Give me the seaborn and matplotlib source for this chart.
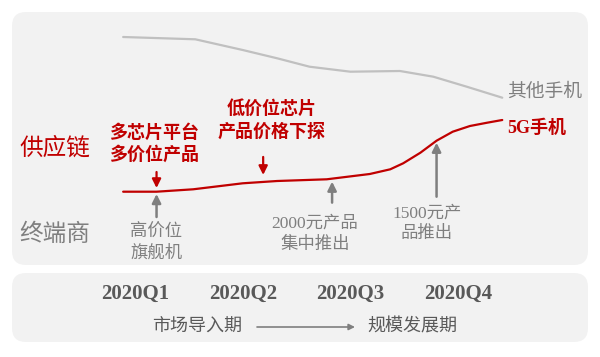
import matplotlib.pyplot as plt
import seaborn as sns
import pandas as pd
import numpy as np
from matplotlib.patches import FancyBboxPatch

# time in quarters of 2020 (1 = Q1 ... 4 = Q4), value = relative share index
other_time = [0.89, 1.56, 2.0, 2.32, 2.62, 3.0, 3.46, 3.77, 4.08, 4.41]
other_phones = [17.3, 17.07, 16.0, 15.17, 14.33, 13.83, 13.9, 13.33, 12.33, 11.23]
g5_time = [0.89, 1.2, 1.54, 2.0, 2.32, 2.78, 3.18, 3.37, 3.49, 3.65, 3.8, 3.95, 4.11, 4.27, 4.41]
phones_5g = [1.83, 1.83, 2.07, 2.67, 2.9, 3.07, 3.6, 4.07, 4.67, 5.73, 6.93, 7.83, 8.4, 8.73, 9.0]

quarters = ['2020Q1', '2020Q2', '2020Q3', '2020Q4']
series_names = ['其他手机', '5G手机']

# supply-chain events (above the 5G line), terminal events (below)
supply_events_t = [1.2, 2.19]
supply_events = ['多芯片平台\n多价位产品', '低价位芯片\n产品价格下探']
terminal_events_t = [1.2, 2.83, 3.8]
terminal_events = ['高价位\n旗舰机', '2000元产品\n集中推出', '1500元产\n品推出']

RED = '#c00000'
GRAY_TXT = '#7f7f7f'
DARK_TXT = '#595959'
GRAY_LINE = '#c0c0c0'
PANEL = '#f2f2f2'

sns.set_style('white')
plt.rcParams['font.family'] = ['Liberation Serif', 'Noto Sans CJK SC']

fig = plt.figure(figsize=(6, 3.57), dpi=100)

# background axes in pixel units for the panels and free text
bg = fig.add_axes([0, 0, 1, 1])
bg.set_xlim(0, 600)
bg.set_ylim(357, 0)
bg.axis('off')
bg.add_patch(FancyBboxPatch((12, 12), 576, 253,
                            boxstyle='round,pad=0,rounding_size=14',
                            fc=PANEL, ec='none'))
bg.add_patch(FancyBboxPatch((12, 273), 576, 69,
                            boxstyle='round,pad=0,rounding_size=14',
                            fc=PANEL, ec='none'))

# main data axes
ax = fig.add_axes([0, 0, 1, 1])
ax.patch.set_alpha(0)
ax.set_xlim(-0.2535, 5.3175)
ax.set_ylim(-14.7, 21)
ax.axis('off')

df = pd.DataFrame({
    'time': other_time + g5_time,
    'value': other_phones + phones_5g,
    'series': [series_names[0]] * len(other_time) + [series_names[1]] * len(g5_time),
})
sns.lineplot(data=df, x='time', y='value', hue='series',
             palette=[GRAY_LINE, RED], linewidth=1.6, legend=False, ax=ax)

# series end labels
ax.text(other_time[-1] + 0.05, other_phones[-1] + 0.6, series_names[0],
        color=GRAY_TXT, fontsize=13.5, ha='left', va='center')
ax.text(g5_time[-1] + 0.05, phones_5g[-1] - 0.8, series_names[1],
        color=RED, fontsize=13, fontweight='bold', ha='left', va='center')

# supply chain arrows (down, red): gap above line, arrow length
sup_gap = [0.37, 0.7]
sup_len = [1.6, 1.8]
for t, gap, ln in zip(supply_events_t, sup_gap, sup_len):
    tip = np.interp(t, g5_time, phones_5g) + gap
    ax.annotate('', xy=(t, tip), xytext=(t, tip + ln),
                arrowprops=dict(arrowstyle='-|>', color=RED, lw=1.6,
                                mutation_scale=13, shrinkA=0, shrinkB=0))
ax.text(supply_events_t[0] - 0.02, 6.6, supply_events[0], color=RED,
        fontsize=13, fontweight='bold', ha='center', va='center', linespacing=1.35)
ax.text(supply_events_t[1] + 0.08, 8.95, supply_events[1], color=RED,
        fontsize=13, fontweight='bold', ha='center', va='center', linespacing=1.45)

# terminal arrows (up, gray): gap below line, arrow length
term_gap = [0.23, 0.3, 0.2]
term_len = [2.3, 2.1, 5.4]
for t, gap, ln in zip(terminal_events_t, term_gap, term_len):
    tip = np.interp(t, g5_time, phones_5g) - gap
    ax.annotate('', xy=(t, tip), xytext=(t, tip - ln),
                arrowprops=dict(arrowstyle='-|>', color=GRAY_TXT, lw=1.8,
                                mutation_scale=13, shrinkA=0, shrinkB=0))
term_pos = [(1.2, -3.35), (2.67, -2.4), (3.71, -1.35)]
for (tx, ty), label in zip(term_pos, terminal_events):
    ax.text(tx, ty, label, color=GRAY_TXT, fontsize=12.5, ha='center',
            va='center', linespacing=1.4)

# row labels
bg.text(19, 148, '供应链', color=RED, fontsize=17, ha='left', va='center')
bg.text(19, 235, '终端商', color=GRAY_TXT, fontsize=17, ha='left', va='center')

# quarter labels
for i, q in enumerate(quarters):
    ax.text(i + 1, -8.4, q, color=DARK_TXT, fontsize=15, fontweight='bold',
            ha='center', va='center')

# phase labels
bg.text(197, 327, '市场导入期', color=DARK_TXT, fontsize=13, ha='center', va='center')
bg.text(412, 327, '规模发展期', color=DARK_TXT, fontsize=13, ha='center', va='center')
bg.annotate('', xy=(355, 327), xytext=(257, 327),
            arrowprops=dict(arrowstyle='-|>', color=GRAY_TXT, lw=1.2,
                            mutation_scale=9, shrinkA=0, shrinkB=0))

fig.savefig('out.png', dpi=100)
